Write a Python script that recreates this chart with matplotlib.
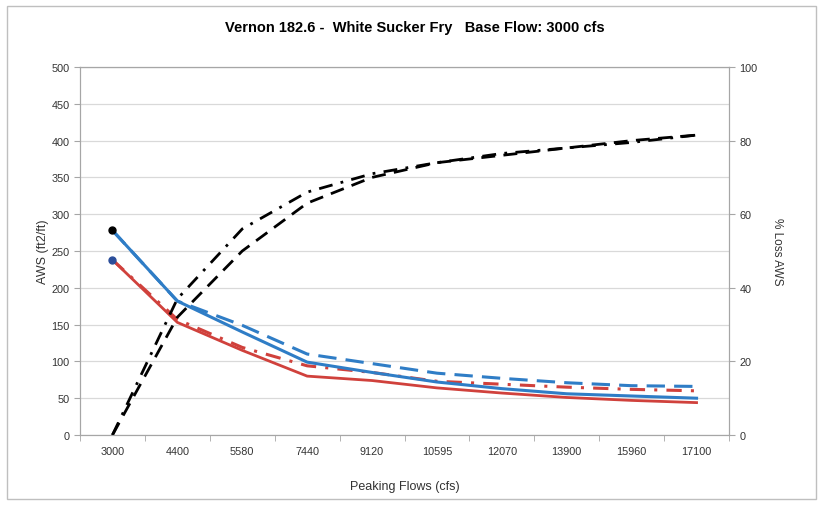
import matplotlib.pyplot as plt
import matplotlib.patches as mpatches
import numpy as np

plt.rcParams['font.family'] = ['Liberation Sans', 'DejaVu Sans']

# categories (peaking flows, cfs)
flows = ['3000', '4400', '5580', '7440', '9120', '10595', '12070', '13900', '15960', '17100']

# AWS (ft2/ft), left axis
aws_blue = [278, 182, 140, 99, 85, 72, 63, 56, 53, 50]
aws_blue_dash = [278, 182, 149, 110, 97, 84, 77, 71, 67, 66]
aws_red = [238, 153, 115, 80, 74, 64, 57, 51, 47, 44]
aws_red_dashdot = [238, 157, 119, 94, 85, 73, 69, 65, 62, 60]

# % loss AWS, right axis
loss_dashdot = [0, 37, 56, 66, 71, 74, 76.5, 78, 79.5, 81.5]
loss_dash = [0, 32, 50, 63, 70, 74, 76, 78, 80, 81.5]

# base flow points
base_top = 278
base_bottom = 238

blue = '#2F7DC6'
red = '#D0413C'
grey = '#A6A6A6'
txt = '#333333'

fig = plt.figure(figsize=(8.18, 5.06), dpi=100)
ax = fig.add_axes([80 / 818, 1 - 436 / 506, (729 - 80) / 818, (436 - 68) / 506])
ax2 = ax.twinx()

x = np.arange(len(flows))

# left axis series
ax.plot(x, aws_blue_dash, color=blue, lw=2.2, dashes=(6, 3))
ax.plot(x, aws_red_dashdot, color=red, lw=2.2, dashes=(5, 3, 1, 3))
ax.plot(x, aws_blue, color=blue, lw=2.2)
ax.plot(x, aws_red, color=red, lw=2.0)
ax.plot(x[0], base_top, 'o', color='black', ms=5)
ax.plot(x[0], base_bottom, 'o', color='#2B4E9A', ms=5)

# right axis series
ax2.plot(x, loss_dash, color='black', lw=2.0, dashes=(5, 3))
ax2.plot(x, loss_dashdot, color='black', lw=2.0, dashes=(5, 3, 1, 3))

ax.set_xlim(-0.5, len(flows) - 0.5)
ax.set_ylim(0, 500)
ax2.set_ylim(0, 100)
ax.set_yticks(np.arange(0, 501, 50))
ax2.set_yticks(np.arange(0, 101, 20))
ax.set_xticks(x)
ax.set_xticklabels(flows)
ax.set_xticks(np.arange(-0.5, len(flows), 1), minor=True)

ax.yaxis.grid(True, color='#D9D9D9', lw=0.9)
ax.set_axisbelow(True)

for a in (ax, ax2):
    for s in a.spines.values():
        s.set_color(grey)
    a.tick_params(colors=grey, labelcolor=txt, labelsize=7.8)
ax.spines['top'].set_color('#808080')
ax.tick_params(axis='x', which='major', length=0, pad=8)
ax.tick_params(axis='x', which='minor', length=4, color=grey)
ax.tick_params(axis='y', length=4)
ax2.tick_params(axis='y', length=4)

ax.set_xlabel('Peaking Flows (cfs)', fontsize=9, color=txt, labelpad=17)
ax.set_ylabel('AWS (ft2/ft)', fontsize=9, color=txt, labelpad=2)
ax2.set_ylabel('% Loss AWS', fontsize=8.5, color=txt, rotation=270, labelpad=18)

fig.text(0.507, 0.944, 'Vernon 182.6 -  White Sucker Fry   Base Flow: 3000 cfs',
         ha='center', va='center', fontsize=10.5, fontweight='bold')

# chart border
fig.patches.append(mpatches.Rectangle((0.008, 0.012), 0.99, 0.975, transform=fig.transFigure,
                                      fill=False, edgecolor='#BFBFBF', lw=1))

fig.savefig('out.png', dpi=100)
